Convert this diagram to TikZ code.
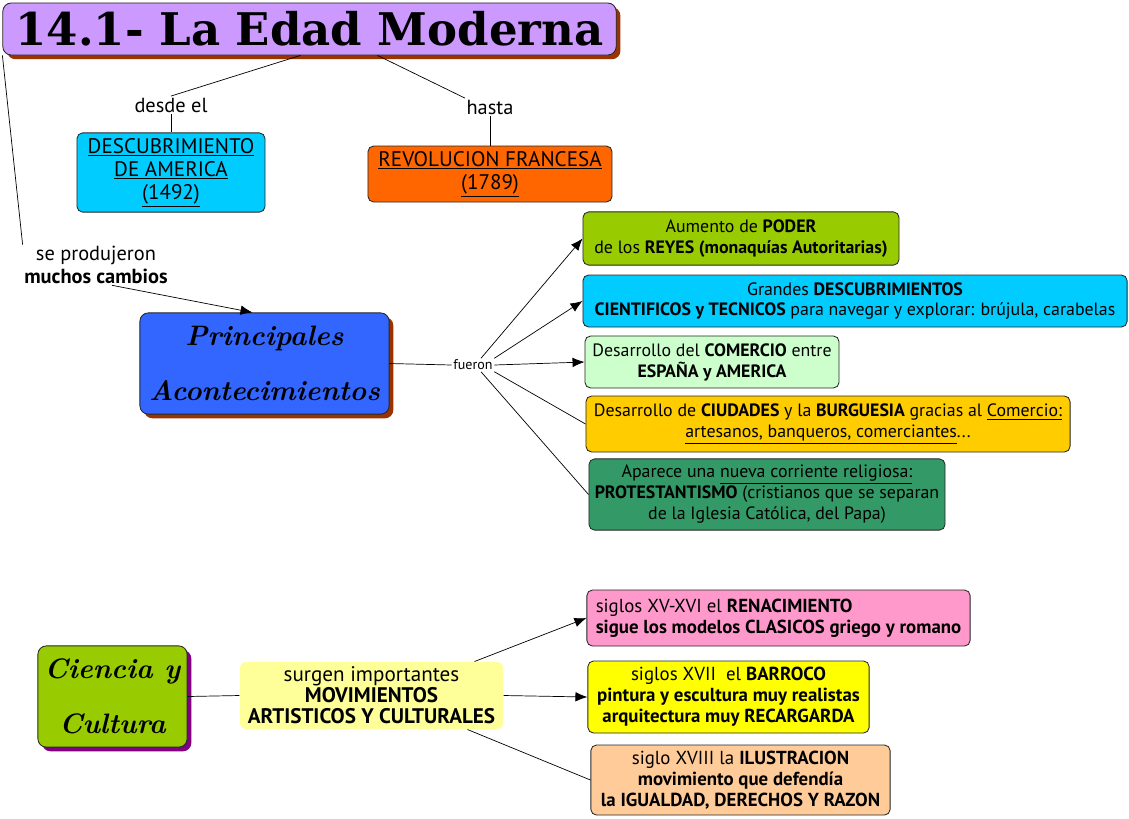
\documentclass[tikz,border=0pt]{standalone}
\usepackage{fontspec}
\newfontfamily\bodyfont{PT Sans}
\newfontfamily\titlefont{DejaVu Serif}
\usetikzlibrary{arrows.meta,calc,shadows}
\definecolor{titlepurple}{HTML}{CC99FF}
\definecolor{shbrown}{HTML}{993300}
\definecolor{shpurple}{HTML}{800080}
\definecolor{skycyan}{HTML}{00CCFF}
\definecolor{revorange}{HTML}{FF6600}
\definecolor{headblue}{HTML}{3366FF}
\definecolor{leafgreen}{HTML}{99CC00}
\definecolor{mint}{HTML}{CCFFCC}
\definecolor{gold}{HTML}{FFCC00}
\definecolor{seagreen}{HTML}{339966}
\definecolor{rosepink}{HTML}{FF99CC}
\definecolor{brightyellow}{HTML}{FFFF00}
\definecolor{paleyellow}{HTML}{FFFF99}
\definecolor{peach}{HTML}{FFCC99}

\begin{document}
\begin{tikzpicture}[x=0.025cm,y=-0.025cm,
  every node/.style={font=\bodyfont\fontsize{12.7}{14.9}\selectfont},
  box/.style={draw=black!85,rounded corners=4pt,align=center,inner sep=2pt,line width=0.6pt},
  head/.style={box,rounded corners=6pt,font=\rmfamily\bfseries\itshape\fontsize{20}{39}\selectfont},
  brshadow/.style={general shadow={fill=shbrown,shadow xshift=3pt,shadow yshift=-3pt}},
  lbl/.style={align=center,inner sep=1pt,font=\bodyfont\fontsize{14.5}{16}\selectfont},
  ln/.style={black,line width=0.5pt},
  ar/.style={ln,-{Latex[length=3mm,width=2.4mm]}}]
\useasboundingbox (0,0) rectangle (1129,818);
% top
\node[box,rounded corners=6pt,fill=titlepurple,brshadow,minimum width=15.33cm,minimum height=1.3cm,font=\titlefont\bfseries\fontsize{32}{34}\selectfont] (title) at (309.5,29) {14.1- La Edad Moderna};
\node[lbl] (desde) at (171,105) {desde el};
\node[lbl] (hasta) at (490,107) {hasta};
\node[box,fill=skycyan,minimum width=4.7cm,minimum height=1.98cm,font=\bodyfont\fontsize{15}{16.3}\selectfont] (desc) at (171,172.5) {\underline{DESCUBRIMIENTO}\\\underline{DE AMERICA}\\\underline{(1492)}};
\node[box,fill=revorange,minimum width=6.1cm,minimum height=1.4cm,font=\bodyfont\fontsize{15}{16.3}\selectfont] (rev) at (490,174) {\underline{REVOLUCION FRANCESA}\\\underline{(1789)}};
\node[lbl] (cambios) at (96,265) {se produjeron\\\textbf{muchos cambios}};
% acontecimientos
\node[head,fill=headblue,brshadow,minimum width=6.23cm,minimum height=2.53cm] (princ) at (264.5,363.5) {Principales\\Acontecimientos};
\node[inner sep=1pt,font=\bodyfont\fontsize{10}{11}\selectfont] (fueron) at (473,365) {fueron};
\node[box,fill=leafgreen,minimum width=7.9cm,minimum height=1.33cm] (poder) at (741,238.5) {Aumento de \textbf{PODER}\\de los \textbf{REYES (monaquías Autoritarias)}};
\node[box,fill=skycyan,minimum width=13.6cm,minimum height=1.3cm] (descub) at (855,301) {Grandes \textbf{DESCUBRIMIENTOS}\\\textbf{CIENTIFICOS y TECNICOS} para navegar y explorar: brújula, carabelas};
\node[box,fill=mint,minimum width=6.35cm,minimum height=1.3cm] (comer) at (712,362) {Desarrollo del \textbf{COMERCIO} entre\\\textbf{ESPAÑA y AMERICA}};
\node[box,fill=gold,minimum width=12.1cm,minimum height=1.4cm] (ciud) at (828,424) {Desarrollo de \textbf{CIUDADES} y la \textbf{BURGUESIA} gracias al \underline{Comercio:}\\\underline{artesanos, banqueros, comerciantes}...};
\node[box,fill=seagreen,minimum width=8.9cm,minimum height=1.78cm] (prot) at (767,494.5) {Aparece una \underline{nueva corriente religiosa:}\\\textbf{PROTESTANTISMO} (cristianos que se separan\\de la Iglesia Católica, del Papa)};
% ciencia y cultura
\node[head,fill=leafgreen,general shadow={fill=shpurple,shadow xshift=3pt,shadow yshift=-3pt},minimum width=3.73cm,minimum height=2.53cm] (ciencia) at (112.5,696.5) {Ciencia y\\Cultura};
\node[box,draw=none,fill=paleyellow,minimum width=6.58cm,minimum height=1.68cm,font=\bodyfont\fontsize{15}{15}\selectfont] (movs) at (371.5,695.5) {surgen importantes\\\textbf{MOVIMIENTOS}\\\textbf{ARTISTICOS Y CULTURALES}};
\node[box,fill=rosepink,align=left,minimum width=9.58cm,minimum height=1.4cm,font=\bodyfont\fontsize{13.4}{15}\selectfont] (ren) at (778.5,618) {siglos XV-XVI el \textbf{RENACIMIENTO}\\\textbf{sigue los modelos CLASICOS griego y romano}};
\node[box,fill=brightyellow,minimum width=7.03cm,minimum height=1.8cm,font=\bodyfont\fontsize{13.4}{15}\selectfont] (bar) at (728.5,697) {siglos XVII\ \ el \textbf{BARROCO}\\\textbf{pintura y escultura muy realistas}\\\textbf{arquitectura muy RECARGARDA}};
\node[box,fill=peach,minimum width=7.48cm,minimum height=1.75cm,font=\bodyfont\fontsize{13.4}{15}\selectfont] (ilu) at (740.5,780) {siglo XVIII la \textbf{ILUSTRACION}\\\textbf{movimiento que defendía}\\\textbf{la IGUALDAD, DERECHOS Y RAZON}};
% connectors
\draw[ln] ($(title.south)+(-9,0)$) -- (desde.north);
\draw[ln] (desde.south) -- (desc.north);
\draw[ln] ($(title.south)+(68,0)$) -- (hasta.north west);
\draw[ln] (hasta.south) -- (rev.north);
\draw[ln] (title.south west) -- (cambios.north west);
\draw[ar] ($(cambios.south)+(16,0)$) -- ($(princ.north)+(-12,0)$);
\draw[ln] (princ.east) -- (fueron.west);
\draw[ar] ($(fueron.north)+(8,0)$) -- (poder.west);
\draw[ar] (fueron.north east) -- (descub.west);
\draw[ar] (fueron.east) -- (comer.west);
\draw[ln] (fueron.south east) -- (ciud.west);
\draw[ln] ($(fueron.south)+(8,0)$) -- (prot.west);
\draw[ln] (ciencia.east) -- (movs.west);
\draw[ar] ($(movs.north east)+(-29,0)$) -- (ren.west);
\draw[ar] (movs.east) -- (bar.west);
\draw[ln] ($(movs.south east)+(-36,0)$) -- (ilu.west);
\end{tikzpicture}
\end{document}
